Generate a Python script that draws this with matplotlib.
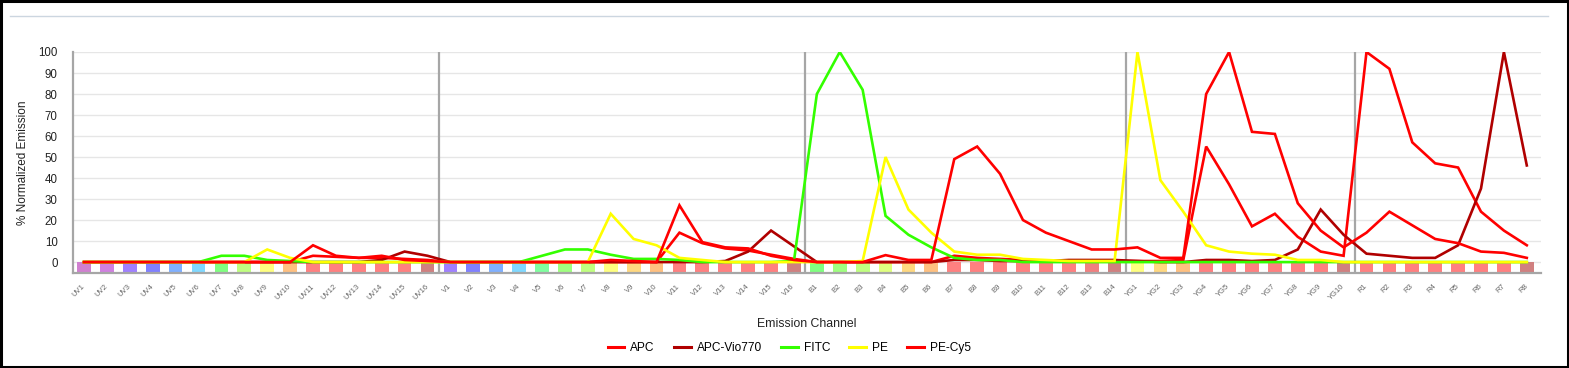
import matplotlib
matplotlib.use("Agg")
import matplotlib.pyplot as plt
from matplotlib.lines import Line2D
from matplotlib.patches import Rectangle

plt.rcParams['font.family'] = ['Liberation Sans', 'DejaVu Sans']

channels = (["UV%d" % i for i in range(1, 17)] + ["V%d" % i for i in range(1, 17)]
            + ["B%d" % i for i in range(1, 15)] + ["YG%d" % i for i in range(1, 11)]
            + ["R%d" % i for i in range(1, 9)])

channel_colors = (
    ["#d080d0", "#d080e0", "#a080ff", "#8080ff", "#80b0ff", "#80d8ff", "#80ff80", "#c0ff80",
     "#ffff80", "#ffc080", "#ff8080", "#ff8080", "#ff8080", "#ff8080", "#ff8080", "#d08080"]
    + ["#a080ff", "#8080ff", "#80b0ff", "#80d8ff", "#80ffa0", "#a0ff80", "#c0ff80", "#ffff80",
       "#ffd880", "#ffc080", "#ff8080", "#ff8080", "#ff8080", "#ff8080", "#ff8080", "#d08080"]
    + ["#80ff80", "#a0ff80", "#c0ff80", "#e0ff80", "#ffd880", "#ffc080", "#ff8080", "#ff8080",
       "#ff8080", "#ff8080", "#ff8080", "#ff8080", "#f08080", "#d08080"]
    + ["#ffff80", "#ffd880", "#ffc080", "#ff8080", "#ff8080", "#ff8080", "#ff8080", "#ff8080",
       "#ff8080", "#d08080"]
    + ["#ff8080"] * 7 + ["#d08080"])

apc = ([0] * 10 + [3, 2.5, 2, 2, 1.5, 1]
       + [0] * 10 + [14, 9, 6.5, 5.5, 3.5, 1.5]
       + [0, 0, 0, 0, 0, 0, 3, 2, 1.5, 1, 0.5, 0.5, 0.5, 0.5]
       + [0.5, 0.5, 1, 55, 37, 17, 23, 12, 5, 3]
       + [100, 92, 57, 47, 45, 24, 15, 8])

apc_vio770 = ([0] * 13 + [1, 5, 3]
              + [0] * 12 + [0.5, 5, 15, 7.5]
              + [0, 0, 0, 0, 0, 0, 1, 1, 0.5, 0.5, 0.5, 1, 1, 1]
              + [0.5, 0, 0, 1, 1, 0.5, 1, 6, 25, 13]
              + [4, 3, 2, 2, 8, 35, 100, 46])

fitc = ([0, 0, 0, 0, 0, 0, 3, 3, 1, 0.5, 0, 0, 0, 0, 0, 0]
        + [0, 0, 0, 0, 3, 6, 6, 3.5, 1.5, 1.5, 1, 0, 0, 0, 0, 0.5]
        + [80, 100, 82, 22, 13, 7, 2, 1, 1, 0, 0, 0, 0, 0]
        + [0] * 10
        + [0] * 8)

pe = ([0, 0, 0, 0, 0, 0, 0, 0, 6, 2, 0, 0, 0, 0, 0, 0]
      + [0, 0, 0, 0, 0, 0, 0, 23, 11, 8, 2, 1, 0, 0, 0, 0]
      + [0, 0, 0.5, 50, 25, 14, 5, 3.5, 3.5, 1.5, 1, 0.5, 0.5, 0.5]
      + [100, 39, 24, 8, 5, 4, 3.5, 1, 1, 0]
      + [0] * 8)

pe_cy5 = ([0] * 10 + [8, 3, 2, 3, 1, 0.5]
          + [0, 0, 0, 0, 0, 0, 0, 1, 0.5, 0, 27, 9.5, 7, 6.5, 3, 1]
          + [0, 0, 0, 3.3, 1, 1, 49, 55, 42, 20, 14, 10, 6, 6]
          + [7, 2, 2, 80, 100, 62, 61, 28, 15, 7]
          + [14, 24, 17.5, 11, 9, 5, 4.4, 2])

series_names = ["APC", "APC-Vio770", "FITC", "PE", "PE-Cy5"]
series_values = [apc, apc_vio770, fitc, pe, pe_cy5]
series_colors = ["#ff0000", "#b00000", "#33ff00", "#ffff00", "#ff0000"]

group_sizes = [16, 16, 14, 10, 8]
yticks = list(range(0, 101, 10))

W, H = 1569, 368
fig = plt.figure(figsize=(W / 100, H / 100), dpi=100)
ax = fig.add_axes([73 / W, 1 - 273 / H, (1541 - 73) / W, (273 - 52) / H])

x = list(range(len(channels)))
ax.bar(x, 4.9, bottom=-4.9, width=0.6, color=channel_colors, zorder=1)

for name, vals, col in zip(series_names, series_values, series_colors):
    ax.plot(x, vals, color=col, lw=1.9, label=name, zorder=3, solid_joinstyle='miter')

# group separators
pos = -0.5
for g in group_sizes[:-1]:
    pos += g
    ax.axvline(pos, color="#a6a6a6", lw=1.6, zorder=2)

ax.set_xlim(-0.48, 63.62)
ax.set_ylim(-5.2, 100)
ax.set_yticks(yticks)
ax.set_yticklabels([str(v) for v in yticks], fontsize=8.3, color="#222222")
ax.yaxis.grid(True, color="#e6e6e6", lw=1, zorder=0)
ax.set_axisbelow(True)
ax.tick_params(axis='y', length=0, pad=11)

ax.set_xticks(x)
ax.set_xticklabels(channels, fontsize=5.5, color="#666666", rotation=45,
                   ha='right', va='center', rotation_mode='anchor')
ax.tick_params(axis='x', length=0, pad=9)

for s in ['top', 'right']:
    ax.spines[s].set_visible(False)
for s in ['left', 'bottom']:
    ax.spines[s].set_color("#a6a6a6")
    ax.spines[s].set_linewidth(1.6)

ax.set_xlabel("Emission Channel", fontsize=8.8, color="#222222")
ax.xaxis.set_label_coords(0.5, -(318 - 273) / (273 - 52))
ax.set_ylabel("% Normalized Emission", fontsize=8.5, color="#222222")
ax.yaxis.set_label_coords(-(73 - 29) / (1541 - 73), 0.5)

fig.legend(loc='center', bbox_to_anchor=(0.503, 1 - 348 / H), ncol=5, frameon=False,
           fontsize=8.6, handlelength=1.4, handletextpad=0.5, columnspacing=1.6)
for lh in fig.legends[0].get_lines():
    lh.set_linewidth(2.2)

fig.add_artist(Line2D([10 / W, 1548 / W], [1 - 15.5 / H] * 2, color="#ccd6e0", lw=1))
fig.add_artist(Rectangle((0.0008, 0.003), 0.9984, 0.994, transform=fig.transFigure,
                         fill=False, edgecolor="black", lw=2.2))

fig.savefig("out.png", dpi=100)
